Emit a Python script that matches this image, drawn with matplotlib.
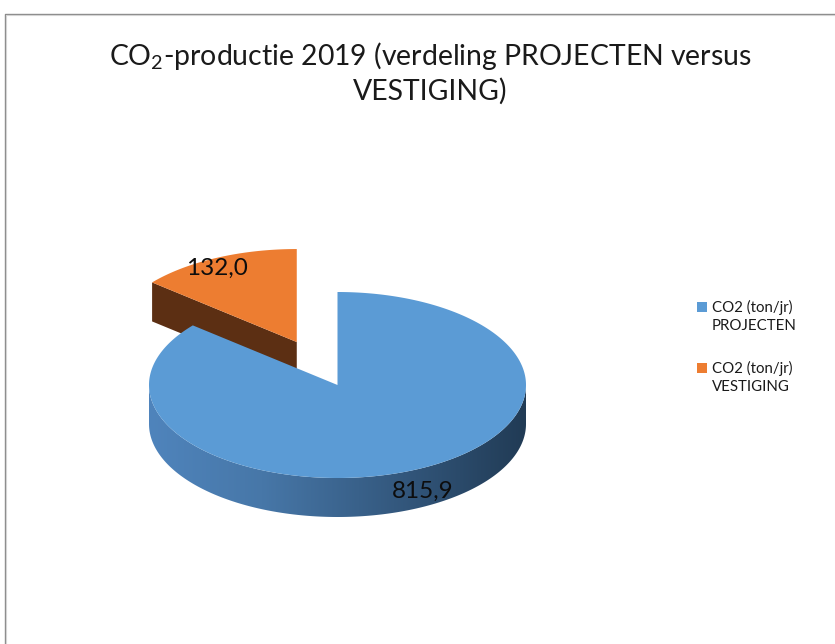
import numpy as np
import matplotlib
matplotlib.use("Agg")
import matplotlib.pyplot as plt
from matplotlib.patches import Polygon, Rectangle
from matplotlib.colors import LinearSegmentedColormap

# ---- data ----
categories = ["CO2 (ton/jr)\nPROJECTEN", "CO2 (ton/jr)\nVESTIGING"]
values = [815.9, 132.0]
value_labels = ["815,9", "132,0"]
colors_top = ["#5B9BD5", "#ED7D31"]
title_line1 = "CO$_\\mathregular{2}$-productie 2019 (verdeling PROJECTEN versus"
title_line2 = "VESTIGING)"

FONT = "Lato"
plt.rcParams['font.family'] = [FONT, 'DejaVu Sans']
plt.rcParams['mathtext.fontset'] = 'custom'
plt.rcParams['mathtext.rm'] = FONT
plt.rcParams['mathtext.it'] = FONT
plt.rcParams['mathtext.bf'] = FONT

W, H = 835, 644
fig = plt.figure(figsize=(W / 100, H / 100), dpi=100)
ax = fig.add_axes([0, 0, 1, 1])
ax.set_xlim(0, W)
ax.set_ylim(H, 0)
ax.axis("off")

# border of chart area
ax.plot([5, 5, W + 5], [H + 5, 13.5, 13.5], color="#8a8a8a", lw=1.0, solid_capstyle="butt")
ax.plot([6.2, 6.2, W + 5], [H + 5, 14.7, 14.7], color="#d4d4d4", lw=0.8, solid_capstyle="butt")

# pie geometry (pixel space)
cx, cy = 337.5, 385.0
a, b = 188.5, 93.0
depth = 39.0
explode = [0.0, 0.51]

total = sum(values)
fracs = [v / total for v in values]
starts = np.cumsum([0] + fracs[:-1]) * 2 * np.pi
ends = np.cumsum(fracs) * 2 * np.pi


def pt(t, rx=1.0, ry=None, off=(0, 0)):
    if ry is None:
        ry = rx
    return (cx + off[0] + a * rx * np.sin(t), cy + off[1] - b * ry * np.cos(t))


offsets = []
for i in range(len(values)):
    tm = (starts[i] + ends[i]) / 2
    offsets.append((a * explode[i] * np.sin(tm), -b * explode[i] * np.cos(tm)))

side_colors = ["#2a4a6b", "#5C2F13"]

# --- orange (exploded) slice: radial side face then top
i = 1
off = offsets[i]
V = (cx + off[0], cy + off[1])
P = pt(starts[i], off=off)
face = [V, P, (P[0], P[1] + depth), (V[0], V[1] + depth)]
ax.add_patch(Polygon(face, closed=True, facecolor=side_colors[i], edgecolor="none", zorder=2))
ts = np.linspace(starts[i], ends[i], 200)
poly = [V] + [pt(t, off=off) for t in ts]
ax.add_patch(Polygon(poly, closed=True, facecolor=colors_top[i], edgecolor="none", zorder=3))

# --- blue slice: outer front side (gradient) then top
i = 0
off = offsets[i]
t0 = max(starts[i], np.pi / 2)
t1 = min(ends[i], 3 * np.pi / 2)
ts = np.linspace(t0, t1, 300)
top_arc = [pt(t, off=off) for t in ts]
bot_arc = [(x, y + depth) for (x, y) in top_arc[::-1]]
side = Polygon(top_arc + bot_arc, closed=True, facecolor="none", edgecolor="none", zorder=4)
ax.add_patch(side)
grad_cmap = LinearSegmentedColormap.from_list(
    "side", [(0.0, "#4f84bc"), (0.3, "#4777a8"), (0.65, "#34597f"), (1.0, "#213b55")])
xs = np.linspace(0, 1, 256).reshape(1, -1)
im = ax.imshow(xs, cmap=grad_cmap, aspect="auto",
               extent=(cx - a, cx + a, cy + b + depth + 2, cy - 2), zorder=4,
               interpolation="bilinear")
im.set_clip_path(side)

ts = np.linspace(starts[i], ends[i], 400)
poly = [(cx + off[0], cy + off[1])] + [pt(t, off=off) for t in ts]
ax.add_patch(Polygon(poly, closed=True, facecolor=colors_top[i], edgecolor="none", zorder=5))

# --- data labels
lab_pos = []
tm0 = (starts[0] + ends[0]) / 2
x0, y0 = pt(tm0, 1.07)
lab_pos.append((x0, y0 + depth * 0.42))
tm1 = (starts[1] + ends[1]) / 2
lab_pos.append(pt(tm1, 1.0, 0.88, offsets[1]))
for k in range(len(values)):
    ax.text(lab_pos[k][0], lab_pos[k][1], value_labels[k], fontsize=17.5,
            color="#0d0d0d", ha="center", va="center", zorder=10)

# --- title
ax.text(430, 56, title_line1, fontsize=20.4, color="#1a1a1a", ha="center", va="center")
ax.text(430, 91, title_line2, fontsize=20.4, color="#1a1a1a", ha="center", va="center")

# --- legend
leg_x, leg_y0, leg_dy = 697, 307, 61
for k in range(len(categories)):
    y = leg_y0 + k * leg_dy
    ax.add_patch(Rectangle((leg_x, y - 5.5), 10, 10, facecolor=colors_top[k], edgecolor="none"))
    ax.text(leg_x + 15, y - 7.5, categories[k], fontsize=10.8, color="#1a1a1a",
            ha="left", va="top", linespacing=1.4)

fig.savefig("out.png", dpi=100)
